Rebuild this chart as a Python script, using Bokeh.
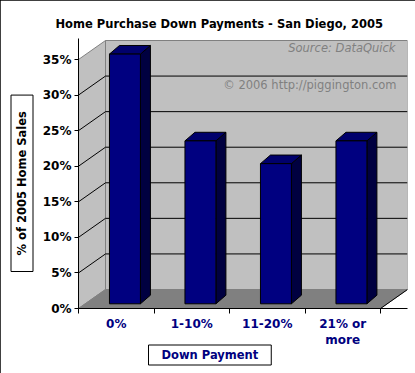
from bokeh.plotting import figure
from bokeh.models import Range1d, FixedTicker, PrintfTickFormatter, Label, Title
from bokeh.embed import file_html
from bokeh.resources import INLINE

# ---- data ----
categories = ["0%", "1-10%", "11-20%", "21% or\nmore"]
values = [35.1, 22.9, 19.7, 22.9]          # % of 2005 home sales
y_ticks = [0, 5, 10, 15, 20, 25, 30, 35]
title_text = "Home Purchase Down Payments - San Diego, 2005"
y_title = "% of 2005 Home Sales"
x_title = "Down Payment"
source_text = "Source: DataQuick"
copy_text = "\u00a9 2006 http://piggington.com"

# ---- 3D geometry (in data units) ----
PX_X = 75.5          # px per category
PX_Y = 249 / 35      # px per percent
DX, DY = 27 / PX_X, 19 / PX_Y          # wall depth
FX, FY = 0.115, 4.7 / PX_Y              # bar front offset into depth
BW = 0.41                               # bar width
BDX, BDY = 10 / PX_X, 8.6 / PX_Y        # bar depth
YMAX = y_ticks[-1]
N = len(categories)

FONT = "DejaVu Sans"
NBSP = "\u00a0" * 3

p = figure(width=415, height=373, output_backend="svg", toolbar_location=None,
           x_range=Range1d(0, 329 / PX_X), y_range=Range1d(0, 270 / PX_Y),
           min_border_left=78, min_border_right=8, min_border_top=38, min_border_bottom=65)
p.outline_line_color = None
p.xgrid.visible = False
p.ygrid.visible = False
p.background_fill_color = "white"
p.border_fill_color = "white"
p.styles = {"outline": "2px solid black", "outline-offset": "-2px"}

# title
p.title.text = title_text
p.title.align = "left"
p.title.offset = -23
p.title.text_font = FONT
p.title.text_font_size = "11.5px"
p.title.text_font_style = "bold"
p.title.text_color = "black"
p.title.standoff = 15

# walls
p.quad(left=DX, right=N + DX, bottom=DY, top=YMAX + DY,
       fill_color="#c0c0c0", line_color="#808080", line_width=1)
p.patch([0, DX, DX, 0], [0, DY, YMAX + DY, YMAX],
        fill_color="#c0c0c0", line_color="#808080", line_width=1)
p.patch([0, N, N + DX, DX], [0, 0, DY, DY],
        fill_color="#808080", line_color="#808080", line_width=1)
p.line([N, N + DX], [0, DY], line_color="black", line_width=1)

# gridlines
gl = y_ticks[1:-1]
p.segment(x0=[DX] * len(gl), y0=[t + DY for t in gl], x1=[N + DX] * len(gl),
          y1=[t + DY for t in gl], line_color="black", line_width=1)
p.segment(x0=[0] * len(gl), y0=gl, x1=[DX] * len(gl),
          y1=[t + DY for t in gl], line_color="black", line_width=1)

# bars
lefts = [i + 0.5 - BW / 2 + FX for i in range(N)]
rights = [l + BW for l in lefts]
tops = [v + FY for v in values]
side_xs = [[r, r + BDX, r + BDX, r] for r in rights]
side_ys = [[FY, FY + BDY, t + BDY, t] for t in tops]
top_xs = [[l, r, r + BDX, l + BDX] for l, r in zip(lefts, rights)]
top_ys = [[t, t, t + BDY, t + BDY] for t in tops]
p.patches(side_xs, side_ys, fill_color="#000040", line_color="black", line_width=1)
p.patches(top_xs, top_ys, fill_color="#00006c", line_color="black", line_width=1)
p.quad(left=lefts, right=rights, bottom=FY, top=tops,
       fill_color="#000080", line_color="black", line_width=1)

# y axis
ya = p.yaxis[0]
ya.ticker = FixedTicker(ticks=y_ticks)
ya.formatter = PrintfTickFormatter(format="%d%%")
ya.major_label_text_font = FONT
ya.major_label_text_font_size = "12px"
ya.major_label_text_font_style = "bold"
ya.major_label_text_color = "black"
ya.axis_line_color = "black"
ya.major_tick_line_color = "black"
ya.major_tick_out = 4
ya.major_tick_in = 0
ya.minor_tick_line_color = None
ya.major_label_standoff = 3

# x axis
xa = p.xaxis[0]
centers = [i + 0.5 for i in range(N)]
xa.ticker = FixedTicker(ticks=centers, minor_ticks=list(range(N + 1)))
xa.major_label_overrides = {c: lab for c, lab in zip(centers, categories)}
xa.major_label_text_font = FONT
xa.major_label_text_font_size = "12px"
xa.major_label_text_font_style = "bold"
xa.major_label_text_color = "#000080"
xa.axis_line_color = "black"
xa.major_tick_out = 0
xa.major_tick_in = 0
xa.major_tick_line_color = None
xa.minor_tick_line_color = "black"
xa.minor_tick_out = 5
xa.minor_tick_in = 0
xa.major_label_standoff = 3

# annotations on the back wall
p.add_layout(Label(x=(395 - 78) / PX_X, y=(308 - 47) / PX_Y, text=source_text,
                   text_align="right", text_baseline="middle", text_font=FONT,
                   text_font_size="11.5px", text_font_style="italic", text_color="#808080"))
p.add_layout(Label(x=(396 - 78) / PX_X, y=(308 - 84) / PX_Y, text=copy_text,
                   text_align="right", text_baseline="middle", text_font=FONT,
                   text_font_size="11.5px", text_color="#808080"))

# boxed axis titles
yt = Title(text=NBSP + y_title + NBSP, align="left", offset=37, standoff=13, text_font=FONT,
           text_font_size="11.5px", text_font_style="bold", text_color="black",
           border_line_color="black", background_fill_color="white", padding=4)
p.add_layout(yt, "left")
xt = Title(text=x_title, align="left", offset=70, standoff=-15, text_font=FONT,
           text_font_size="11.5px", text_font_style="bold", text_color="#000080",
           border_line_color="black", background_fill_color="white", padding=(13, 3))
p.add_layout(xt, "below")

open("out.html", "w").write(file_html(p, INLINE))
